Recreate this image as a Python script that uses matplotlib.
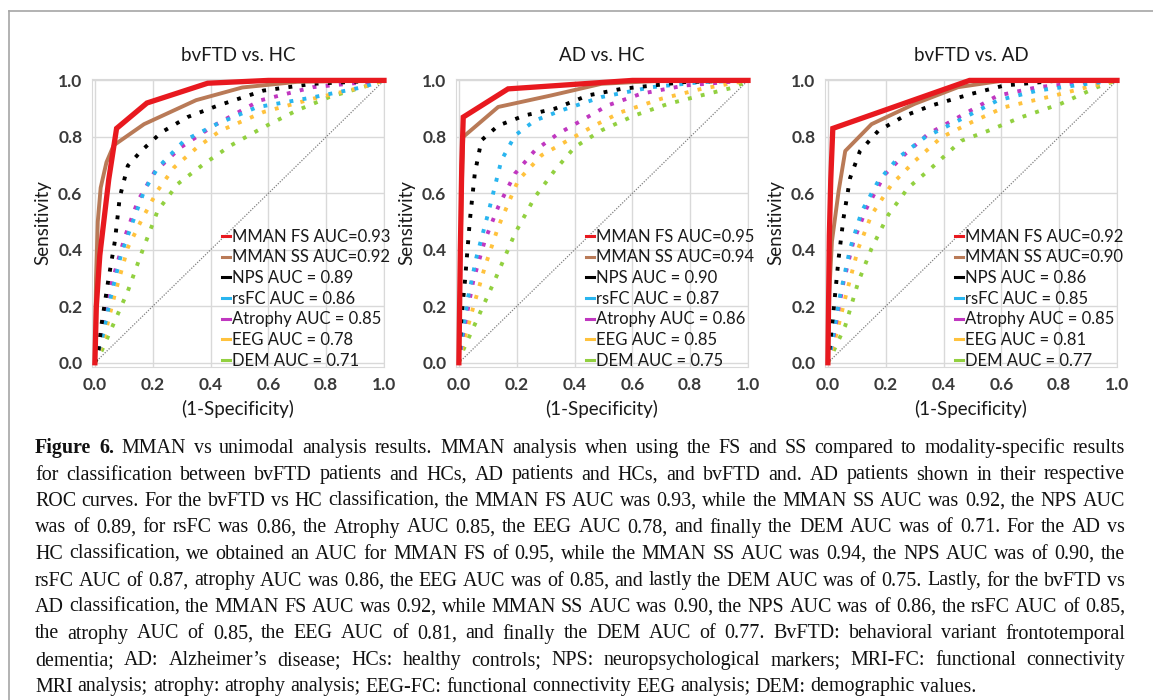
import matplotlib
matplotlib.use("Agg")
import matplotlib.pyplot as plt
from matplotlib.lines import Line2D

# ---- data ----
titles = ["bvFTD vs. HC", "AD vs. HC", "bvFTD vs. AD"]
series_names = ["MMAN FS", "MMAN SS", "NPS", "rsFC", "Atrophy", "EEG", "DEM"]

auc_ftd_hc = [0.93, 0.92, 0.89, 0.86, 0.85, 0.78, 0.71]
auc_ad_hc = [0.95, 0.94, 0.90, 0.87, 0.86, 0.85, 0.75]
auc_ftd_ad = [0.92, 0.90, 0.86, 0.85, 0.85, 0.81, 0.77]

# bvFTD vs HC
ftd_hc_fs_x = [0, 0.005, 0.017, 0.048, 0.075, 0.18, 0.39, 0.6, 1.0]
ftd_hc_fs_y = [0, 0.2, 0.38, 0.65, 0.83, 0.92, 0.99, 1.0, 1.0]
ftd_hc_ss_x = [0, 0.004, 0.01, 0.02, 0.04, 0.065, 0.17, 0.35, 0.51, 0.7, 1.0]
ftd_hc_ss_y = [0, 0.3, 0.5, 0.62, 0.71, 0.77, 0.845, 0.93, 0.975, 0.995, 1.0]
ftd_hc_nps_x = [0, 0.011, 0.023, 0.046, 0.069, 0.086, 0.114, 0.16, 0.23, 0.32, 0.423, 0.583, 0.754, 1.0]
ftd_hc_nps_y = [0, 0.03, 0.136, 0.29, 0.43, 0.586, 0.698, 0.75, 0.816, 0.87, 0.91, 0.964, 0.988, 1.0]
ftd_hc_rsfc_x = [0, 0.023, 0.057, 0.091, 0.126, 0.171, 0.217, 0.309, 0.423, 0.56, 0.754, 0.926, 1.0]
ftd_hc_rsfc_y = [0, 0.077, 0.243, 0.385, 0.485, 0.61, 0.69, 0.787, 0.846, 0.905, 0.94, 0.976, 1.0]
ftd_hc_atr_x = [0, 0.023, 0.057, 0.103, 0.149, 0.206, 0.297, 0.411, 0.571, 0.754, 1.0]
ftd_hc_atr_y = [0, 0.11, 0.278, 0.444, 0.574, 0.675, 0.763, 0.84, 0.929, 0.976, 1.0]
ftd_hc_eeg_x = [0, 0.029, 0.069, 0.114, 0.16, 0.217, 0.274, 0.354, 0.434, 0.583, 0.754, 0.926, 1.0]
ftd_hc_eeg_y = [0, 0.077, 0.243, 0.408, 0.503, 0.61, 0.692, 0.763, 0.822, 0.888, 0.935, 0.976, 1.0]
ftd_hc_dem_x = [0, 0.023, 0.069, 0.114, 0.16, 0.217, 0.286, 0.377, 0.469, 0.583, 0.697, 0.811, 0.926, 1.0]
ftd_hc_dem_y = [0, 0.041, 0.148, 0.254, 0.385, 0.538, 0.633, 0.704, 0.769, 0.834, 0.893, 0.941, 0.976, 1.0]

# AD vs HC
ad_hc_fs_x = [0, 0.005, 0.01, 0.015, 0.17, 0.6, 1.0]
ad_hc_fs_y = [0, 0.4, 0.7, 0.87, 0.97, 1.0, 1.0]
ad_hc_ss_x = [0, 0.005, 0.01, 0.015, 0.136, 0.32, 0.493, 0.72, 1.0]
ad_hc_ss_y = [0, 0.35, 0.62, 0.8, 0.906, 0.947, 0.988, 1.0, 1.0]
ad_hc_nps_x = [0, 0.009, 0.021, 0.038, 0.055, 0.078, 0.136, 0.228, 0.332, 0.447, 0.562, 0.78, 1.0]
ad_hc_nps_y = [0, 0.163, 0.29, 0.505, 0.67, 0.788, 0.84, 0.876, 0.9, 0.947, 0.97, 0.994, 1.0]
ad_hc_rsfc_x = [0, 0.009, 0.032, 0.061, 0.101, 0.147, 0.194, 0.263, 0.355, 0.493, 0.666, 0.839, 1.0]
ad_hc_rsfc_y = [0, 0.08, 0.233, 0.375, 0.528, 0.717, 0.805, 0.858, 0.894, 0.941, 0.976, 0.994, 1.0]
ad_hc_atr_x = [0, 0.015, 0.05, 0.09, 0.136, 0.194, 0.263, 0.343, 0.424, 0.516, 0.631, 0.781, 1.0]
ad_hc_atr_y = [0, 0.104, 0.292, 0.434, 0.552, 0.67, 0.752, 0.811, 0.858, 0.912, 0.953, 0.982, 1.0]
ad_hc_eeg_x = [0, 0.015, 0.05, 0.09, 0.136, 0.205, 0.286, 0.378, 0.47, 0.562, 0.7, 0.839, 1.0]
ad_hc_eeg_y = [0, 0.068, 0.198, 0.34, 0.481, 0.646, 0.735, 0.788, 0.841, 0.888, 0.935, 0.97, 1.0]
ad_hc_dem_x = [0, 0.015, 0.067, 0.124, 0.194, 0.263, 0.332, 0.401, 0.493, 0.608, 0.724, 0.839, 0.954, 1.0]
ad_hc_dem_y = [0, 0.045, 0.163, 0.292, 0.458, 0.587, 0.682, 0.764, 0.823, 0.876, 0.917, 0.947, 0.976, 1.0]

# bvFTD vs AD
ftd_ad_fs_x = [0, 0.005, 0.01, 0.017, 0.49, 1.0]
ftd_ad_fs_y = [0, 0.45, 0.65, 0.83, 1.0, 1.0]
ftd_ad_ss_x = [0, 0.005, 0.014, 0.037, 0.06, 0.151, 0.3, 0.45, 0.61, 1.0]
ftd_ad_ss_y = [0, 0.25, 0.43, 0.607, 0.75, 0.845, 0.917, 0.976, 1.0, 1.0]
ftd_ad_nps_x = [0, 0.008, 0.02, 0.037, 0.054, 0.077, 0.111, 0.174, 0.266, 0.358, 0.495, 0.61, 0.782, 1.0]
ftd_ad_nps_y = [0, 0.071, 0.19, 0.369, 0.512, 0.655, 0.75, 0.821, 0.875, 0.911, 0.952, 0.982, 0.998, 1.0]
ftd_ad_rsfc_x = [0, 0.014, 0.042, 0.077, 0.117, 0.174, 0.243, 0.335, 0.45, 0.587, 0.725, 0.897, 1.0]
ftd_ad_rsfc_y = [0, 0.071, 0.238, 0.405, 0.536, 0.643, 0.726, 0.798, 0.857, 0.929, 0.964, 0.988, 1.0]
ftd_ad_atr_x = [0, 0.02, 0.054, 0.088, 0.134, 0.197, 0.266, 0.346, 0.461, 0.587, 0.725, 0.897, 1.0]
ftd_ad_atr_y = [0, 0.095, 0.286, 0.429, 0.548, 0.667, 0.738, 0.81, 0.875, 0.946, 0.976, 0.994, 1.0]
ftd_ad_eeg_x = [0, 0.025, 0.065, 0.105, 0.151, 0.22, 0.3, 0.392, 0.495, 0.61, 0.782, 0.897, 1.0]
ftd_ad_eeg_y = [0, 0.083, 0.25, 0.405, 0.524, 0.631, 0.714, 0.798, 0.851, 0.905, 0.946, 0.976, 1.0]
ftd_ad_dem_x = [0, 0.02, 0.06, 0.105, 0.151, 0.209, 0.277, 0.358, 0.461, 0.553, 0.667, 0.805, 0.931, 1.0]
ftd_ad_dem_y = [0, 0.042, 0.131, 0.286, 0.405, 0.524, 0.619, 0.69, 0.786, 0.821, 0.869, 0.917, 0.976, 1.0]

caption_lines = [
    "Figure 6. MMAN vs unimodal analysis results. MMAN analysis when using the FS and SS compared to modality-specific results",
    "for classification between bvFTD patients and HCs, AD patients and HCs, and bvFTD and. AD patients shown in their respective",
    "ROC curves. For the bvFTD vs HC classification, the MMAN FS AUC was 0.93, while the MMAN SS AUC was 0.92, the NPS AUC",
    "was of 0.89, for rsFC was 0.86, the Atrophy AUC 0.85, the EEG AUC 0.78, and finally the DEM AUC was of 0.71. For the AD vs",
    "HC classification, we obtained an AUC for MMAN FS of 0.95, while the MMAN SS AUC was 0.94, the NPS AUC was of 0.90, the",
    "rsFC AUC of 0.87, atrophy AUC was 0.86, the EEG AUC was of 0.85, and lastly the DEM AUC was of 0.75. Lastly, for the bvFTD vs",
    "AD classification, the MMAN FS AUC was 0.92, while MMAN SS AUC was 0.90, the NPS AUC was of 0.86, the rsFC AUC of 0.85,",
    "the atrophy AUC of 0.85, the EEG AUC of 0.81, and finally the DEM AUC of 0.77. BvFTD: behavioral variant frontotemporal",
    "dementia; AD: Alzheimer\u2019s disease; HCs: healthy controls; NPS: neuropsychological markers; MRI-FC: functional connectivity",
    "MRI analysis; atrophy: atrophy analysis; EEG-FC: functional connectivity EEG analysis; DEM: demographic values.",
]

panels = [
    (titles[0], auc_ftd_hc,
     [(ftd_hc_fs_x, ftd_hc_fs_y), (ftd_hc_ss_x, ftd_hc_ss_y), (ftd_hc_nps_x, ftd_hc_nps_y),
      (ftd_hc_rsfc_x, ftd_hc_rsfc_y), (ftd_hc_atr_x, ftd_hc_atr_y), (ftd_hc_eeg_x, ftd_hc_eeg_y),
      (ftd_hc_dem_x, ftd_hc_dem_y)]),
    (titles[1], auc_ad_hc,
     [(ad_hc_fs_x, ad_hc_fs_y), (ad_hc_ss_x, ad_hc_ss_y), (ad_hc_nps_x, ad_hc_nps_y),
      (ad_hc_rsfc_x, ad_hc_rsfc_y), (ad_hc_atr_x, ad_hc_atr_y), (ad_hc_eeg_x, ad_hc_eeg_y),
      (ad_hc_dem_x, ad_hc_dem_y)]),
    (titles[2], auc_ftd_ad,
     [(ftd_ad_fs_x, ftd_ad_fs_y), (ftd_ad_ss_x, ftd_ad_ss_y), (ftd_ad_nps_x, ftd_ad_nps_y),
      (ftd_ad_rsfc_x, ftd_ad_rsfc_y), (ftd_ad_atr_x, ftd_ad_atr_y), (ftd_ad_eeg_x, ftd_ad_eeg_y),
      (ftd_ad_dem_x, ftd_ad_dem_y)]),
]

colors = ["#e8191f", "#b97a57", "#000000", "#29b5ef", "#c037c0", "#ffc23d", "#92d040"]
sans = ["Lato", "DejaVu Sans"]
serif = ["Liberation Serif", "DejaVu Serif"]

W, H = 1153, 700
fig = plt.figure(figsize=(W / 100, H / 100), dpi=100)
fig.patch.set_facecolor("white")

# frame lines (top and left, the rest is cropped in the original)
fig.add_artist(Line2D([9 / W, 1], [1 - 11 / H, 1 - 11 / H], color="#a6a6a6", lw=1.2))
fig.add_artist(Line2D([9 / W, 9 / W], [0, 1 - 11 / H], color="#a6a6a6", lw=1.2))

lefts = [92, 456, 825]
for (title, aucs, curves), left in zip(panels, lefts):
    ax = fig.add_axes([left / W, 1 - 367 / H, 292 / W, 288 / H])
    ax.set_xlim(-0.01, 1.0)
    ax.set_ylim(-0.015, 1.005)
    ax.set_xticks([0, 0.2, 0.4, 0.6, 0.8, 1.0])
    ax.set_yticks([0, 0.2, 0.4, 0.6, 0.8, 1.0])
    ax.xaxis.set_major_formatter(matplotlib.ticker.FormatStrFormatter("%.1f"))
    ax.yaxis.set_major_formatter(matplotlib.ticker.FormatStrFormatter("%.1f"))
    ax.grid(True, color="#d9d9d9", lw=1.0)
    ax.set_axisbelow(True)
    for s in ax.spines.values():
        s.set_color("#d9d9d9")
    ax.tick_params(length=0, pad=7, labelsize=12.5, labelcolor="#3a3a3a")
    for lab in ax.get_xticklabels() + ax.get_yticklabels():
        lab.set_fontfamily(sans)
        lab.set_fontweight("bold")

    ax.plot([0, 1], [0, 1], color="#808080", lw=0.9, ls=(0, (1, 1.2)), zorder=2)

    handles = []
    labels = []
    for i in range(6, -1, -1):
        cx, cy = curves[i]
        if i == 0:
            ax.plot(cx, cy, color=colors[i], lw=3.8, solid_joinstyle="miter", zorder=10, clip_on=False)
        elif i == 1:
            ax.plot(cx, cy, color=colors[i], lw=2.8, zorder=9, clip_on=False)
        else:
            ax.plot(cx, cy, color=colors[i], lw=2.8, ls=(0, (1, 2.4)), dash_capstyle="butt", zorder=3 + (6 - i))
    for i in range(7):
        handles.append(Line2D([], [], color=colors[i], lw=2.2))
        if i < 2:
            labels.append("%s AUC=%.2f" % (series_names[i], aucs[i]))
        else:
            labels.append("%s AUC = %.2f" % (series_names[i], aucs[i]))
    leg = ax.legend(handles, labels, loc="upper left", bbox_to_anchor=(0.445, 0.48),
                    frameon=False, borderpad=0, borderaxespad=0, handlelength=0.5,
                    handletextpad=0.12, labelspacing=0.28,
                    prop={"family": sans, "size": 12})
    leg.set_clip_on(False)
    for t in leg.get_texts():
        t.set_color("#1a1a1a")

    ax.set_title(title, fontfamily=sans, fontsize=13.5, color="#1a1a1a", pad=13)
    ax.set_ylabel("Sensitivity", fontfamily=sans, fontsize=13.5, color="#1a1a1a", labelpad=5)
    ax.set_xlabel("(1-Specificity)", fontfamily=sans, fontsize=13.5, color="#1a1a1a", labelpad=5)

# caption, justified like the journal layout
fig.canvas.draw()
rend = fig.canvas.get_renderer()
x_left, x_right = 35, 1125
base = 15


def word_widths(words, size, first):
    ws = []
    for k, w in enumerate(words):
        t = fig.text(0, 0, w, fontsize=size, fontfamily=serif,
                     fontweight="bold" if (first and k < 2) else "normal")
        ws.append(t.get_window_extent(rend).width)
        t.remove()
    return ws


split_lines = [ln.split(" ") for ln in caption_lines]
t1 = fig.text(0, 0, "a b", fontsize=base, fontfamily=serif)
t2 = fig.text(0, 0, "ab", fontsize=base, fontfamily=serif)
space = t1.get_window_extent(rend).width - t2.get_window_extent(rend).width
t1.remove()
t2.remove()
natural = []
for li, words in enumerate(split_lines[:-1]):
    ws = word_widths(words, base, li == 0)
    natural.append(sum(ws) + space * (len(words) - 1))
size = base * (x_right - x_left) / max(natural)
space = space * size / base

for li, words in enumerate(split_lines):
    ws = word_widths(words, size, li == 0)
    if li < len(split_lines) - 1:
        gap = ((x_right - x_left) - sum(ws)) / (len(words) - 1)
    else:
        gap = space
    x = x_left
    y = 453 + li * 26.5
    for k, w in enumerate(words):
        fig.text(x / W, 1 - y / H, w, fontsize=size, fontfamily=serif, va="baseline",
                 fontweight="bold" if (li == 0 and k < 2) else "normal", color="#111111")
        x += ws[k] + gap

fig.savefig("out.png", dpi=100)
